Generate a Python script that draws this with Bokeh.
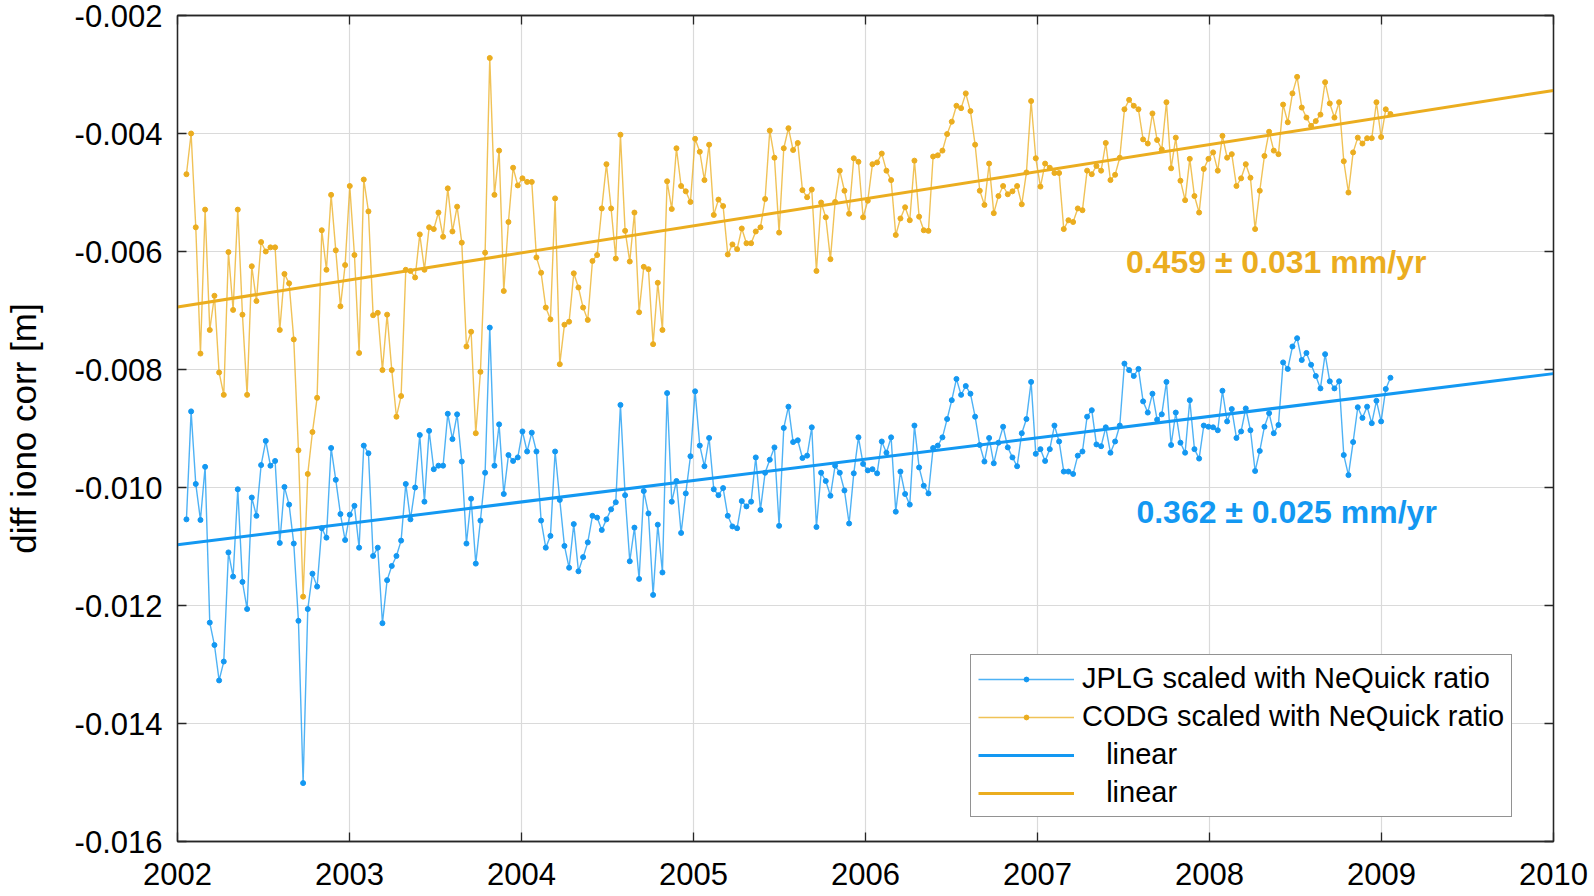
import numpy as np
from bokeh.plotting import figure
from bokeh.models import (Range1d, FixedTicker, PrintfTickFormatter, LinearAxis,
                          Legend, LegendItem, Label)
from bokeh.embed import file_html
from bokeh.resources import INLINE

# ---------------- data (values in mm, plotted in m) ----------------
first_epoch = 2002.052      # decimal year of first sample
last_epoch = 2009.052       # decimal year of last sample

jplg_mm = [
    -10.54, -8.71, -9.94, -10.55, -9.65, -12.29, -12.67, -13.27, -12.95, -11.10,
    -11.51, -10.03, -11.60, -12.06, -10.17, -10.48, -9.62, -9.21, -9.63, -9.55,
    -10.94, -9.99, -10.29, -10.95, -12.26, -15.01, -12.06, -11.46, -11.68, -10.69,
    -10.85, -9.33, -9.87, -10.45, -10.89, -10.46, -10.31, -11.02, -9.29, -9.42,
    -11.16, -11.02, -12.30, -11.57, -11.33, -11.16, -10.90, -9.94, -10.54, -10.00,
    -9.11, -10.24, -9.04, -9.69, -9.63, -9.63, -8.75, -9.18, -8.76, -9.56,
    -10.95, -10.19, -11.29, -10.56, -9.75, -7.29, -9.63, -8.93, -10.11, -9.45,
    -9.55, -9.49, -9.05, -9.39, -9.07, -9.39, -10.56, -11.02, -10.82, -9.39,
    -10.21, -10.99, -11.36, -10.62, -11.42, -11.18, -10.93, -10.48, -10.51, -10.72,
    -10.54, -10.37, -10.25, -8.60, -10.13, -11.25, -10.68, -11.55, -10.06, -10.44,
    -11.82, -10.63, -11.44, -8.40, -10.24, -9.89, -10.77, -10.10, -9.47, -8.37,
    -9.29, -9.64, -9.16, -10.03, -10.13, -10.01, -10.48, -10.66, -10.69, -10.23,
    -10.32, -10.24, -9.49, -10.38, -9.75, -9.53, -9.32, -10.65, -8.99, -8.63,
    -9.23, -9.20, -9.50, -9.46, -8.98, -10.67, -9.75, -9.89, -10.14, -9.63,
    -9.75, -10.05, -10.61, -9.76, -9.15, -9.60, -9.71, -9.69, -9.76, -9.22,
    -9.41, -9.15, -10.41, -9.73, -10.11, -10.29, -8.95, -9.66, -9.97, -10.10,
    -9.33, -9.29, -9.15, -8.84, -8.52, -8.16, -8.43, -8.28, -8.41, -8.80,
    -9.28, -9.56, -9.16, -9.59, -9.24, -8.97, -9.32, -9.49, -9.64, -9.08,
    -8.84, -8.21, -9.43, -9.35, -9.55, -9.35, -8.95, -9.22, -9.73, -9.73,
    -9.77, -9.46, -9.39, -8.80, -8.69, -9.27, -9.30, -8.98, -9.41, -9.22,
    -8.95, -7.90, -8.01, -8.11, -7.99, -8.54, -8.73, -8.41, -8.85, -8.76,
    -8.21, -9.28, -8.73, -9.24, -9.41, -8.52, -9.35, -9.51, -8.95, -8.97,
    -8.98, -9.03, -8.36, -8.88, -8.67, -9.16, -9.05, -8.66, -9.03, -9.72,
    -9.38, -8.97, -8.74, -9.08, -8.94, -7.88, -7.99, -7.61, -7.47, -7.84,
    -7.72, -7.92, -8.11, -8.32, -7.74, -8.20, -8.32, -8.20, -9.45, -9.79,
    -9.23, -8.64, -8.82, -8.63, -8.91, -8.53, -8.88, -8.33, -8.14,
]

codg_mm = [
    -4.69, -4.00, -5.59, -7.73, -5.29, -7.33, -6.75, -8.05, -8.43, -6.01,
    -6.99, -5.29, -7.07, -8.43, -6.25, -6.84, -5.84, -6.00, -5.93, -5.93,
    -7.33, -6.38, -6.54, -7.49, -9.37, -11.85, -9.77, -9.06, -8.48, -5.64,
    -6.31, -5.04, -5.98, -6.93, -6.23, -4.89, -6.06, -7.72, -4.78, -5.32,
    -7.08, -7.04, -8.01, -7.07, -8.01, -8.80, -8.45, -6.31, -6.33, -6.44,
    -5.71, -6.31, -5.59, -5.62, -5.34, -5.75, -4.93, -5.66, -5.24, -5.85,
    -7.61, -7.36, -9.08, -8.04, -6.02, -2.72, -5.04, -4.29, -6.67, -5.50,
    -4.58, -4.88, -4.76, -4.82, -4.82, -6.10, -6.36, -6.95, -7.15, -5.10,
    -7.91, -7.24, -7.19, -6.37, -6.61, -6.95, -7.16, -6.16, -6.06, -5.27,
    -4.52, -5.27, -6.12, -4.02, -5.65, -6.17, -5.34, -7.03, -6.26, -6.30,
    -7.57, -6.53, -7.33, -4.81, -5.28, -4.25, -4.89, -4.98, -5.16, -4.09,
    -4.31, -4.79, -4.19, -5.38, -5.12, -5.23, -6.05, -5.88, -5.96, -5.61,
    -5.86, -5.86, -5.66, -5.59, -5.11, -3.95, -4.41, -5.68, -4.25, -3.91,
    -4.28, -4.16, -4.96, -5.08, -4.95, -6.33, -5.17, -5.42, -6.13, -5.16,
    -4.63, -4.97, -5.36, -4.42, -4.48, -5.42, -5.14, -4.52, -4.49, -4.34,
    -4.63, -4.79, -5.72, -5.44, -5.25, -5.47, -4.46, -5.41, -5.64, -5.65,
    -4.39, -4.37, -4.29, -4.01, -3.80, -3.53, -3.57, -3.32, -3.62, -4.19,
    -4.97, -5.21, -4.51, -5.35, -5.06, -4.89, -5.03, -4.98, -4.89, -5.20,
    -4.66, -3.45, -4.42, -4.90, -4.51, -4.58, -4.67, -4.67, -5.62, -5.47,
    -5.50, -5.27, -5.30, -4.63, -4.69, -4.55, -4.63, -4.16, -4.79, -4.70,
    -4.41, -3.59, -3.43, -3.53, -3.59, -4.10, -4.17, -3.66, -4.11, -4.27,
    -3.47, -4.59, -4.07, -4.80, -5.13, -4.43, -5.06, -5.34, -4.60, -4.43,
    -4.32, -4.63, -4.04, -4.41, -4.35, -4.89, -4.76, -4.52, -4.75, -5.62,
    -4.97, -4.38, -3.97, -4.29, -4.35, -3.51, -3.81, -3.32, -3.04, -3.56,
    -3.73, -3.87, -3.79, -3.68, -3.13, -3.49, -3.73, -3.47, -4.47, -5.00,
    -4.32, -4.07, -4.17, -4.08, -4.08, -3.47, -4.06, -3.59, -3.67,
]

trend_years = [2002.0, 2010.0]
jplg_trend_mm = [-10.97, -8.07]
codg_trend_mm = [-6.94, -3.27]

x_ticks = [2002, 2003, 2004, 2005, 2006, 2007, 2008, 2009, 2010]
y_ticks = [-0.016, -0.014, -0.012, -0.010, -0.008, -0.006, -0.004, -0.002]

jplg_label = "JPLG scaled with NeQuick ratio"
codg_label = "CODG scaled with NeQuick ratio"
fit_label = "\u00a0\u00a0\u00a0linear"
jplg_rate = "0.362 \u00b1 0.025 mm/yr"
codg_rate = "0.459 \u00b1 0.031 mm/yr"

# ---------------- derived ----------------
n = len(jplg_mm)
epochs = np.linspace(first_epoch, last_epoch, n)
jplg = np.array(jplg_mm) / 1000.0
codg = np.array(codg_mm) / 1000.0
jplg_trend = np.array(jplg_trend_mm) / 1000.0
codg_trend = np.array(codg_trend_mm) / 1000.0

BLUE = "#1398F2"
ORANGE = "#EBAD1F"
AX = "#262626"
FONT = "Liberation Sans"

p = figure(width=1594, height=896, output_backend="svg", toolbar_location=None,
           x_range=Range1d(2002, 2010), y_range=Range1d(-0.016, -0.002),
           min_border_left=175, min_border_right=41,
           min_border_top=15, min_border_bottom=55,
           background_fill_color="white", border_fill_color="white")

p.outline_line_color = AX
p.outline_line_width = 1.3

xt = FixedTicker(ticks=x_ticks)
yt = FixedTicker(ticks=y_ticks)

xa = p.xaxis[0]
xa.ticker = xt
xa.formatter = PrintfTickFormatter(format="%d")
xa.major_label_standoff = 21
ya = p.yaxis[0]
ya.ticker = yt
ya.formatter = PrintfTickFormatter(format="%.3f")
ya.major_label_standoff = 15
ya.axis_label = "diff iono corr [m]"
ya.axis_label_text_font = FONT
ya.axis_label_text_font_size = "35px"
ya.axis_label_text_font_style = "normal"
ya.axis_label_text_color = "black"
ya.axis_label_standoff = 29

for ax in (xa, ya):
    ax.major_label_text_font = FONT
    ax.major_label_text_font_size = "31px"
    ax.major_label_text_color = "black"

top = LinearAxis(ticker=xt, major_label_text_font_size="11px",
                 major_label_text_color=None, major_label_standoff=0)
right = LinearAxis(ticker=yt, major_label_text_font_size="11px",
                   major_label_text_color=None, major_label_standoff=0)
p.add_layout(top, "above")
p.add_layout(right, "right")

for ax in (xa, ya, top, right):
    ax.axis_line_color = AX
    ax.axis_line_width = 1.3
    ax.major_tick_line_color = AX
    ax.major_tick_line_width = 1.3
    ax.major_tick_in = 9
    ax.major_tick_out = 0
    ax.minor_tick_line_color = None

p.xgrid.ticker = xt
p.ygrid.ticker = yt
for g in (p.xgrid[0], p.ygrid[0]):
    g.grid_line_color = "#DADADA"
    g.grid_line_width = 1.2

r_jl = p.line(epochs, jplg, line_color=BLUE, line_width=1.4, line_alpha=0.75)
r_jp = p.scatter(epochs, jplg, size=5, fill_color=BLUE, line_color=BLUE)
r_cl = p.line(epochs, codg, line_color=ORANGE, line_width=1.4, line_alpha=0.75)
r_cp = p.scatter(epochs, codg, size=5, fill_color=ORANGE, line_color=ORANGE)
r_jf = p.line(trend_years, jplg_trend, line_color=BLUE, line_width=3)
r_cf = p.line(trend_years, codg_trend, line_color=ORANGE, line_width=3)

legend = Legend(items=[
    LegendItem(label=jplg_label, renderers=[r_jl, r_jp]),
    LegendItem(label=codg_label, renderers=[r_cl, r_cp]),
    LegendItem(label=fit_label, renderers=[r_jf]),
    LegendItem(label=fit_label, renderers=[r_cf]),
], location=(793, 24), margin=0, padding=7, spacing=5,
    glyph_width=96, glyph_height=12, label_height=33, label_standoff=8,
    label_text_font=FONT, label_text_font_size="29px", label_text_color="black",
    border_line_color=AX, border_line_width=1.3,
    background_fill_color="white", background_fill_alpha=1.0)
p.add_layout(legend)

p.add_layout(Label(x=2007.514, y=-0.00618, text=codg_rate, text_font=FONT,
                   text_font_size="32px", text_font_style="bold",
                   text_color=ORANGE, text_baseline="middle", text_align="left"))
p.add_layout(Label(x=2007.575, y=-0.01042, text=jplg_rate, text_font=FONT,
                   text_font_size="32px", text_font_style="bold",
                   text_color=BLUE, text_baseline="middle", text_align="left"))

open("out.html", "w").write(file_html(p, INLINE))
